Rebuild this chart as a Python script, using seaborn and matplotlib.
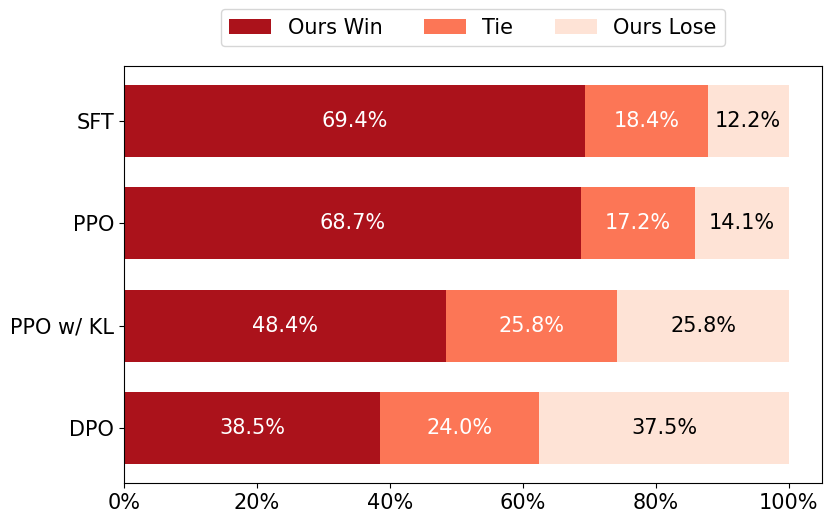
import pandas as pd
import matplotlib
matplotlib.use("Agg")
import matplotlib.pyplot as plt
import seaborn as sns
from matplotlib.patches import Patch
from matplotlib.ticker import PercentFormatter

methods = ["SFT", "PPO", "PPO w/ KL", "DPO"]
win = [69.4, 68.7, 48.4, 38.5]
tie = [18.4, 17.2, 25.8, 24.0]
lose = [12.2, 14.1, 25.8, 37.5]

labels = ["Ours Win", "Tie", "Ours Lose"]
colors = ["#AB121B", "#FC7656", "#FEE3D6"]
text_colors = ["white", "white", "black"]

df = pd.DataFrame({"method": methods, "win": win, "tie": tie, "lose": lose})
df["win_f"] = df["win"] / 100
df["tie_f"] = df["tie"] / 100
df["lose_f"] = df["lose"] / 100
df["c1"] = df["win_f"]
df["c2"] = df["win_f"] + df["tie_f"]
df["c3"] = df["c2"] + df["lose_f"]

fig = plt.figure(figsize=(8.31, 5.22), dpi=100)
ax = fig.add_axes([124 / 831, 39 / 522, 698 / 831, 417 / 522])

# stacked by drawing cumulative totals back to front
for col, c in zip(["c3", "c2", "c1"], colors[::-1]):
    sns.barplot(data=df, y="method", x=col, color=c, orient="h", width=0.7,
                saturation=1, linewidth=0, ax=ax)

# value labels centred in each segment
for i, row in df.iterrows():
    starts = [0, row["c1"], row["c2"]]
    vals = [row["win"], row["tie"], row["lose"]]
    for s, v, tc in zip(starts, vals, text_colors):
        ax.text(s + v / 200, i, f"{v:.1f}%", ha="center", va="center",
                color=tc, fontsize=15)

ax.set_xlim(0, 1.05)
ax.set_ylim(3.535, -0.535)
ax.xaxis.set_major_formatter(PercentFormatter(1.0, decimals=0))
ax.set_xticks([0, 0.2, 0.4, 0.6, 0.8, 1.0])
ax.set_xlabel("")
ax.set_ylabel("")
ax.tick_params(axis="both", labelsize=15)

handles = [Patch(facecolor=c, label=l) for c, l in zip(colors, labels)]
ax.legend(handles=handles, loc="lower center", bbox_to_anchor=(0.5, 1.048),
          ncol=3, fontsize=15, borderaxespad=0, frameon=True)

fig.savefig("out.png", dpi=100)
